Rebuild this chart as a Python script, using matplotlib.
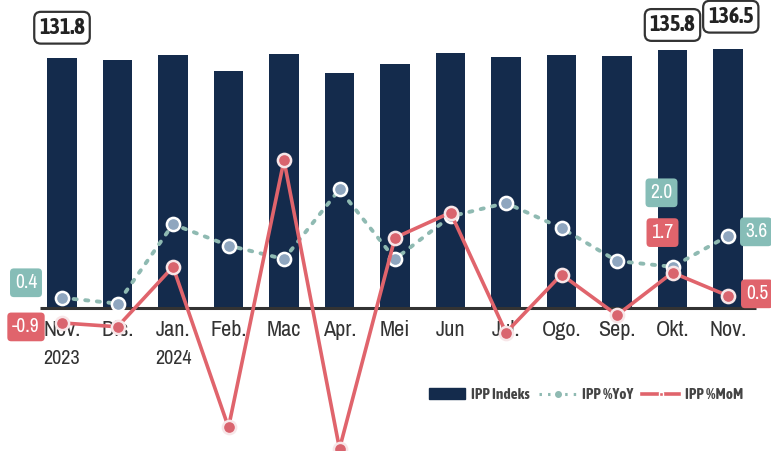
import matplotlib
matplotlib.use("Agg")
import matplotlib.pyplot as plt
from matplotlib.lines import Line2D
from matplotlib.patches import Patch
from matplotlib import font_manager
from matplotlib.font_manager import FontProperties

months = ["Nov.", "Dis.", "Jan.", "Feb.", "Mac", "Apr.", "Mei", "Jun", "Jul.", "Ogo.", "Sep.", "Okt.", "Nov."]
years = ["2023", "", "2024", "", "", "", "", "", "", "", "", "", ""]
ipp_index = [131.8, 130.3, 133.0, 124.6, 133.9, 123.8, 128.2, 134.4, 132.0, 133.4, 132.4, 135.8, 136.5]
ipp_yoy = [0.4, 0.1, 4.2, 3.1, 2.4, 6.0, 2.4, 4.6, 5.3, 4.0, 2.3, 2.0, 3.6]
ipp_mom = [-0.9, -1.1, 2.0, -6.3, 7.5, -7.4, 3.5, 4.8, -1.4, 1.6, -0.5, 1.7, 0.5]

NAMES = {f.name for f in font_manager.fontManager.ttflist}

def fam(*prefs):
    for p in prefs:
        if p in NAMES:
            return p
    return "Liberation Sans"

REG = fam("Archivo Narrow", "Asap Condensed", "Barlow Condensed")
BOLD = fam("Asap Condensed", "Barlow Condensed", "Archivo Narrow")

def fp(size, weight="normal"):
    f = BOLD if weight == "bold" else REG
    return FontProperties(family=[f, "DejaVu Sans"], weight=weight, size=size)

plt.rcParams["font.family"] = [REG, "DejaVu Sans"]

NAVY = "#142b4c"
TEAL = "#8fbab2"
TEAL_BOX = "#86bdb7"
RED = "#e0646c"
TXT = "#333333"

fig = plt.figure(figsize=(7.71, 4.51), dpi=100)
ax = fig.add_axes([0, 0, 1, 1])
x = list(range(len(months)))
ax.bar(x, ipp_index, width=0.53, color=NAVY, zorder=2)
ax.set_xlim(-62 / 55.5, (771 - 62) / 55.5)
ax.set_ylim(-143 / 1.9, 308 / 1.9)
ax.hlines(0, -0.4, 12.5, color="#333333", lw=2.2, zorder=3)
ax.axis("off")

for i, (m, yv) in enumerate(zip(months, years)):
    ax.text(i, -11.8, m, ha="center", va="center", fontproperties=fp(16), color=TXT)
    if yv:
        ax.text(i, -26.5, yv, ha="center", va="center", fontproperties=fp(14.5), color=TXT)

# index labels
idx_off = {0: (0, 21.5), 11: (0, 18), 12: (2, 23)}
for i, (dx, dy) in idx_off.items():
    ax.annotate(f"{ipp_index[i]:.1f}", xy=(i, ipp_index[i]), xytext=(dx, dy),
                textcoords="offset points", ha="center", va="center",
                fontproperties=fp(16, "bold"), color="#222222", zorder=6,
                bbox=dict(boxstyle="round,pad=0.22,rounding_size=0.3", fc="white", ec="#333333", lw=1.6))

ax2 = ax.twinx()
ax2.set_position([0, 0, 1, 1])
ax2.set_ylim(-145.5 / 19.35, 305.5 / 19.35)
ax2.axis("off")

ax2.plot(x, ipp_yoy, color=TEAL, lw=2.8, linestyle=(0, (0.8, 2.2)), dash_capstyle="round",
         marker="o", markersize=9.5, markerfacecolor="#8fa6bf", markeredgecolor="white",
         markeredgewidth=1.8, zorder=4)
ax2.plot(x, ipp_mom, color=RED, lw=2.6, marker="o", markersize=9.5,
         markerfacecolor="#d9646e", markeredgecolor="#f7e6e8", markeredgewidth=1.8, zorder=5)

def box_label(i, val, dxpx, dypx, fc):
    ax2.annotate(f"{val:.1f}", xy=(i, val), xytext=(dxpx * 0.72, dypx * 0.72),
                 textcoords="offset points", ha="center", va="center",
                 fontproperties=fp(14), color="white", zorder=7,
                 bbox=dict(boxstyle="round,pad=0.25,rounding_size=0.2", fc=fc, ec="none"))

box_label(0, ipp_yoy[0], -36, 15, TEAL_BOX)
box_label(11, ipp_yoy[11], -11, 74, TEAL_BOX)
box_label(12, ipp_yoy[12], 28, 4, TEAL_BOX)
box_label(0, ipp_mom[0], -36, -4, RED)
box_label(11, ipp_mom[11], -10, 40, RED)
box_label(12, ipp_mom[12], 29, 2, RED)

handles = [
    Patch(facecolor=NAVY, edgecolor=NAVY),
    Line2D([0], [0], color=TEAL, lw=2.2, linestyle=(0, (0.8, 2)), marker="o", markersize=4,
           markerfacecolor=TEAL, markeredgecolor=TEAL),
    Line2D([0], [0], color=RED, lw=2.6, marker="s", markersize=3,
           markerfacecolor=RED, markeredgecolor="white"),
]
leg = fig.legend(handles, ["IPP Indeks", "IPP %YoY", "IPP %MoM"], ncol=3, frameon=False,
                 loc="center", bbox_to_anchor=(586 / 771, 1 - 395 / 451),
                 prop=fp(11, "bold"), handlelength=2.4, handleheight=0.7,
                 columnspacing=0.6, handletextpad=0.4)
for t in leg.get_texts():
    t.set_color("#444444")

fig.savefig("out.png", dpi=100)
